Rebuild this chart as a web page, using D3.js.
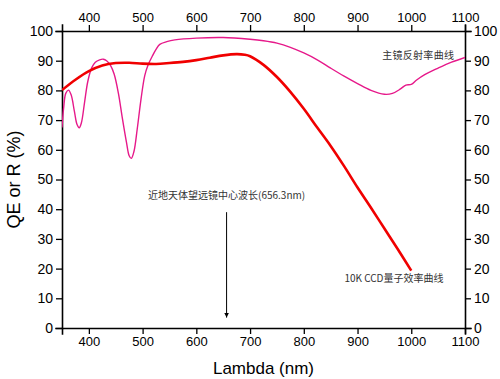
<!DOCTYPE html>
<html><head><meta charset="utf-8">
<script src="https://cdn.jsdelivr.net/npm/d3@7"></script>
<style>body{margin:0;background:#fff}svg{display:block}</style>
</head><body>
<svg id="c" width="500" height="379"></svg>
<script>
// CCD quantum efficiency (red)
const qeLambda = [350,375,400,425,450,475,500,525,550,575,600,625,650,675,690,700,725,750,775,800,825,850,875,900,925,950,975,1000];
const qeValues = [80.1,83.6,86.5,88.4,89.2,89.3,89.0,88.9,89.2,89.6,90.2,91.0,91.8,92.2,92.0,91.5,88.6,84.5,79.5,73.8,67.5,61.3,54.5,47.3,40.5,33.5,26.5,19.3];
// Primary mirror reflectance (magenta)
const rLambda = [350,353,357,362,367,373,378,382,386,392,398,405,412,420,427,433,440,447,455,462,470,475,479,484,490,497,504,510,518,525,532,545,560,600,650,700,725,750,775,800,825,850,875,900,925,950,965,980,990,1000,1010,1025,1050,1075,1100];
const rValues = [67.5,74,79,80.1,78.5,73,68.5,67.4,69,76,83,87.5,89.5,90.3,90.5,90,88.5,85.5,79,71,62.5,58,57.1,59.5,67,77,85,88.5,91.5,93.8,95.5,96.4,97.0,97.6,97.8,97.2,96.7,95.9,94.5,92.6,90.3,87.5,84.8,82.3,80.0,78.7,79.0,80.5,81.8,82.0,83.5,85.3,87.5,89.5,91.1];
const xTicks = [400,500,600,700,800,900,1000,1100];
const xMinor = d3.range(350,1101,50);
const yTicks = [0,10,20,30,40,50,60,70,80,90,100];
const yMinor = d3.range(0,101,5);
const labelMirror = "主镜反射率曲线";
const labelCCD = "10K CCD量子效率曲线";
const labelCenter = "近地天体望远镜中心波长(656.3nm)";
const centerLambda = 656.3;

const svg = d3.select("#c");
const L=62, R=465, T=31, B=328;
const x = d3.scaleLinear().domain([350,1100]).range([L,R]);
const y = d3.scaleLinear().domain([0,100]).range([B,T]);
const font = "'Liberation Sans', Arial, sans-serif";

function axis(gen, tr, scale, majors, minors, fs){
  const g = svg.append("g").attr("transform", tr);
  g.call(gen(scale).tickValues(minors).tickSize(3).tickFormat(""));
  g.call(gen(scale).tickValues(majors).tickSize(6).tickPadding(3).tickFormat(d3.format("d")));
  g.selectAll("path.domain").attr("stroke","#000").attr("stroke-width",1.6).attr("stroke-linecap","square");
  g.selectAll("line").attr("stroke","#000").attr("stroke-width",1.3);
  g.selectAll("text").attr("font-family",font).attr("font-size",fs).attr("fill","#000");
  return g;
}
axis(d3.axisBottom, `translate(0,${B})`, x, xTicks, xMinor, 13);
axis(d3.axisTop, `translate(0,${T})`, x, xTicks, xMinor, 13);
axis(d3.axisLeft, `translate(${L},0)`, y, yTicks, yMinor, 14);
axis(d3.axisRight, `translate(${R},0)`, y, yTicks, yMinor, 14);

const line = d3.line().x(d=>x(d[0])).y(d=>y(d[1])).curve(d3.curveCatmullRom.alpha(0.5));
svg.append("clipPath").attr("id","cp").append("rect").attr("x",L).attr("y",T-2).attr("width",R-L).attr("height",B-T+2);
svg.append("path").datum(d3.zip(rLambda,rValues)).attr("d",line)
  .attr("fill","none").attr("stroke","#e6198a").attr("stroke-width",1.4).attr("clip-path","url(#cp)");
svg.append("path").datum(d3.zip(qeLambda,qeValues)).attr("d",line)
  .attr("fill","none").attr("stroke","#f00000").attr("stroke-width",2.6).attr("clip-path","url(#cp)");

const cjk = "'Noto Sans CJK SC', sans-serif";
svg.append("text").attr("x",x(1080)).attr("y",y(90.5)).attr("text-anchor","end")
  .attr("font-family",cjk).attr("font-size",10).attr("letter-spacing",0.3).attr("fill","#333").text(labelMirror);
svg.append("text").attr("x",x(1060)).attr("y",y(15.5)).attr("text-anchor","end")
  .attr("font-family",cjk).attr("font-size",10).attr("fill","#333").text(labelCCD);
svg.append("text").attr("x",x(centerLambda)).attr("y",y(43.3)).attr("text-anchor","middle")
  .attr("font-family",cjk).attr("font-size",10).attr("fill","#333").text(labelCenter);

svg.append("defs").append("marker").attr("id","ah").attr("viewBox","0 0 10 10").attr("refX",10).attr("refY",5)
  .attr("markerWidth",5).attr("markerHeight",8).attr("markerUnits","userSpaceOnUse").attr("orient","auto")
  .append("path").attr("d","M0,0L10,5L0,10Z").attr("fill","#000");
svg.append("line").attr("x1",x(centerLambda)).attr("x2",x(centerLambda)).attr("y1",y(39)).attr("y2",y(3.5))
  .attr("stroke","#000").attr("stroke-width",1).attr("marker-end","url(#ah)");

svg.append("text").attr("x",(L+R)/2).attr("y",374).attr("text-anchor","middle")
  .attr("font-family",font).attr("font-size",17).text("Lambda (nm)");
svg.append("text").attr("transform",`translate(20,${(T+B)/2}) rotate(-90)`).attr("text-anchor","middle")
  .attr("font-family",font).attr("font-size",18).text("QE or R (%)");
</script>
</body></html>
